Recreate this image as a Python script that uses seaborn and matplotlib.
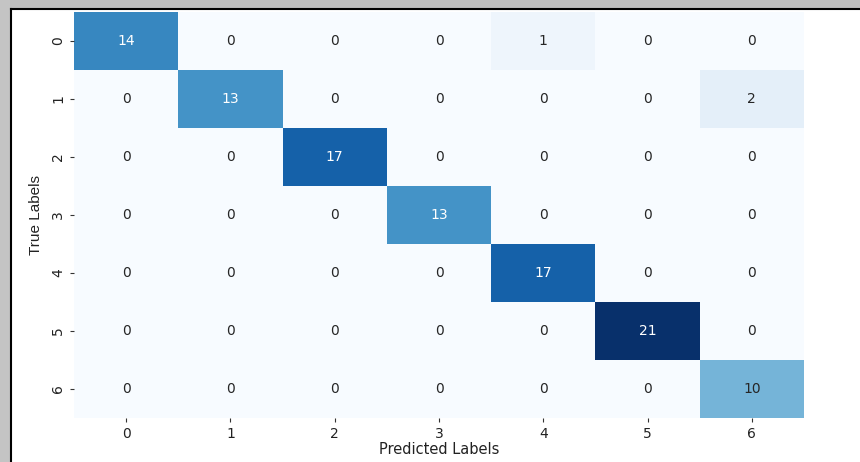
import numpy as np
import pandas as pd
import seaborn as sns
import matplotlib
matplotlib.use("Agg")
import matplotlib.pyplot as plt
from matplotlib.patches import Rectangle

plt.rcParams["font.family"] = ["DejaVu Sans"]

# Confusion matrix: rows = true class, columns = predicted class
class_labels = [0, 1, 2, 3, 4, 5, 6]
row_0 = [14, 0, 0, 0, 1, 0, 0]
row_1 = [0, 13, 0, 0, 0, 0, 2]
row_2 = [0, 0, 17, 0, 0, 0, 0]
row_3 = [0, 0, 0, 13, 0, 0, 0]
row_4 = [0, 0, 0, 0, 17, 0, 0]
row_5 = [0, 0, 0, 0, 0, 21, 0]
row_6 = [0, 0, 0, 0, 0, 0, 10]

cm = pd.DataFrame([row_0, row_1, row_2, row_3, row_4, row_5, row_6],
                  index=class_labels, columns=class_labels)

fig = plt.figure(figsize=(8.6, 4.62), dpi=100)
W, H = 860, 462
ax = fig.add_axes([74 / W, 1 - 418 / H, (804 - 74) / W, (418 - 12) / H])

sns.heatmap(cm, annot=True, fmt="d", cmap="Blues", cbar=False, ax=ax,
            annot_kws={"fontsize": 10})
# soften the dark annotation text on light cells
for t in ax.texts:
    r, g, b, a = matplotlib.colors.to_rgba(t.get_color())
    if r + g + b < 1.0:
        t.set_color("#262626")

ax.set_xlabel("Predicted Labels", fontsize=10.5, labelpad=1, color="#222222",
              family="DejaVu Sans")
ax.set_ylabel("True Labels", fontsize=11, labelpad=6, color="#222222",
              family=["Liberation Sans Narrow", "Liberation Sans", "DejaVu Sans"])
ax.tick_params(axis="both", labelsize=10, length=3, colors="#333333",
               labelcolor="#222222")

# Window-style frame around the figure
fig.patches.append(Rectangle((0, 1 - 8 / H), 1, 8 / H, transform=fig.transFigure,
                             facecolor="#bdbdbd", edgecolor="none", zorder=0))
fig.patches.append(Rectangle((0, 0), 10 / W, 1, transform=fig.transFigure,
                             facecolor="#c4c4c4", edgecolor="none", zorder=0))
fig.lines.append(plt.Line2D([11 / W, 1], [1 - 9 / H, 1 - 9 / H],
                            transform=fig.transFigure, color="black", lw=1.5))
fig.lines.append(plt.Line2D([11 / W, 11 / W], [0, 1 - 9 / H],
                            transform=fig.transFigure, color="black", lw=1.5))

fig.savefig("out.png", dpi=100)
